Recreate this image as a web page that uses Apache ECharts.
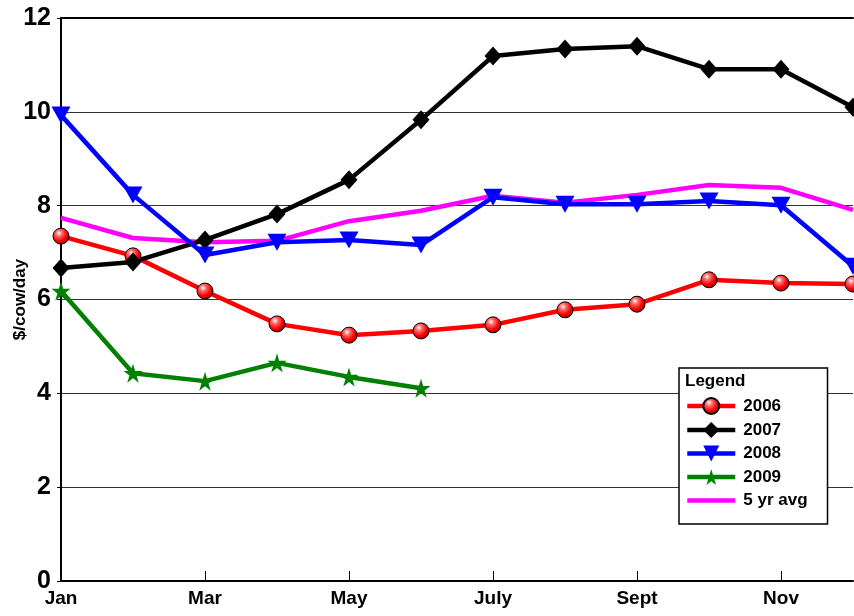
<!DOCTYPE html>
<html>
<head>
<meta charset="utf-8">
<style>
  html, body { margin: 0; padding: 0; background: #fff; }
  #main { width: 854px; height: 616px; }
</style>
<script src="https://cdn.jsdelivr.net/npm/echarts@6/dist/echarts.min.js"></script>
</head>
<body>
<div id="main"></div>
<script>
const months = ["Jan", "Feb", "Mar", "Apr", "May", "June", "July", "Aug", "Sept", "Oct", "Nov", "Dec"];
const yTicks = [0, 2, 4, 6, 8, 10, 12];

const y2006 = [7.35, 6.93, 6.18, 5.48, 5.24, 5.33, 5.46, 5.78, 5.9, 6.42, 6.35, 6.33];
const y2007 = [6.67, 6.8, 7.27, 7.82, 8.55, 9.83, 11.19, 11.34, 11.4, 10.91, 10.91, 10.1];
const y2008 = [9.93, 8.23, 6.95, 7.22, 7.27, 7.16, 8.18, 8.03, 8.03, 8.1, 8.01, 6.71];
const y2009 = [6.18, 4.43, 4.26, 4.65, 4.35, 4.11];
const avg5 = [7.74, 7.31, 7.22, 7.25, 7.67, 7.89, 8.21, 8.06, 8.23, 8.44, 8.38, 7.91];

const font = "'Liberation Sans', Arial, sans-serif";
const star = "path://M50,0 L61,35 L98,35 L68,57 L79,91 L50,70 L21,91 L32,57 L2,35 L39,35 Z";

const sphere = {
  type: "radial", x: 0.38, y: 0.32, r: 0.7,
  colorStops: [
    { offset: 0, color: "#ffffff" },
    { offset: 0.25, color: "#ff7070" },
    { offset: 0.65, color: "#ff0000" },
    { offset: 1, color: "#a00000" },
  ],
};

const chart = echarts.init(document.getElementById("main"));
chart.setOption({
  animation: false,
  textStyle: { fontFamily: font },
  title: {
    text: "Legend",
    left: 685,
    top: 373,
    padding: 0,
    textStyle: { fontFamily: font, fontWeight: "bold", fontSize: 17, color: "#000" },
  },
  legend: {
    orient: "vertical",
    left: 679,
    top: 368,
    padding: [29, 20, 15, 6],
    borderColor: "#000",
    borderWidth: 1.5,
    backgroundColor: "#fff",
    itemWidth: 48,
    itemHeight: 20,
    itemGap: 6.5,
    lineStyle: { width: 4.5 },
    textStyle: { fontFamily: font, fontWeight: "bold", fontSize: 17, color: "#000", padding: [0, 0, 0, 3] },
    data: [
      { name: "2006" },
      { name: "2007" },
      { name: "2008" },
      { name: "2009" },
      { name: "5 yr avg", itemStyle: { opacity: 0 } },
    ],
  },
  grid: { left: 61, top: 18, right: 1, bottom: 35, outerBoundsMode: "none" },
  xAxis: [
    {
      type: "category",
      data: months,
      boundaryGap: false,
      axisLine: { lineStyle: { color: "#000", width: 2 } },
      axisTick: { show: true, inside: true, length: 10, interval: 1, lineStyle: { color: "#000" } },
      axisLabel: { interval: 1, color: "#000", fontWeight: "bold", fontSize: 19, margin: 8 },
      splitLine: { show: false },
    },
    {
      type: "category",
      data: months,
      position: "top",
      boundaryGap: false,
      axisLine: { lineStyle: { color: "#000", width: 2 } },
      axisTick: { show: false },
      axisLabel: { show: false },
    },
  ],
  yAxis: {
    type: "value",
    min: yTicks[0],
    max: yTicks[yTicks.length - 1],
    interval: 2,
    name: "$/cow/day",
    nameLocation: "middle",
    nameRotate: 90,
    nameGap: 32,
    nameMoveOverlap: false,
    nameTextStyle: { fontFamily: font, fontWeight: "bold", fontSize: 17, color: "#000" },
    axisLine: { show: true, lineStyle: { color: "#000", width: 2 } },
    axisTick: { show: true, length: 4, lineStyle: { color: "#000" } },
    axisLabel: { color: "#000", fontWeight: "bold", fontSize: 25, margin: 10 },
    splitLine: { lineStyle: { color: "#333", width: 1 } },
  },
  series: [
    {
      name: "2006", type: "line", data: y2006, z: 3,
      symbol: "circle", symbolSize: 16,
      lineStyle: { color: "#ff0000", width: 4.5 },
      itemStyle: { color: sphere, borderColor: "#000", borderWidth: 1 },
    },
    {
      name: "2007", type: "line", data: y2007, z: 3,
      symbol: "diamond", symbolSize: [17, 19],
      lineStyle: { color: "#000", width: 4.5 },
      itemStyle: { color: "#000" },
    },
    {
      name: "2008", type: "line", data: y2008, z: 3,
      symbol: "triangle", symbolRotate: 180, symbolSize: [19, 17],
      lineStyle: { color: "#0000ff", width: 4.5 },
      itemStyle: { color: "#0000ff" },
    },
    {
      name: "2009", type: "line", data: y2009, z: 3,
      symbol: star, symbolSize: 19,
      lineStyle: { color: "#008000", width: 4.5 },
      itemStyle: { color: "#008000" },
    },
    {
      name: "5 yr avg", type: "line", data: avg5, z: 2,
      symbol: "none",
      lineStyle: { color: "#ff00ff", width: 4.5 },
      itemStyle: { color: "#ff00ff" },
    },
  ],
});
</script>
</body>
</html>
